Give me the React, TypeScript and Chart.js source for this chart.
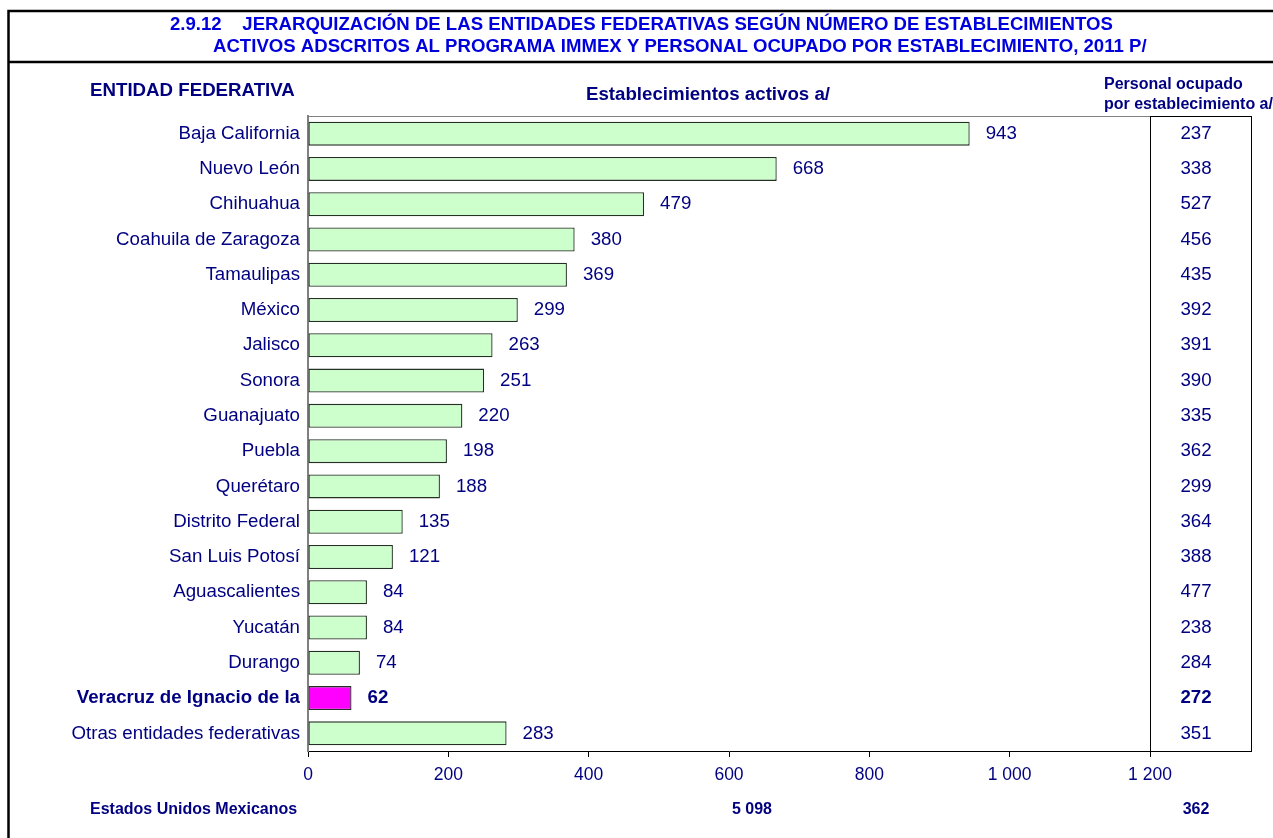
import React, { useEffect, useRef } from "react";
import { Chart, registerables } from "chart.js";

Chart.register(...registerables);

const categories = [
  "Baja California",
  "Nuevo León",
  "Chihuahua",
  "Coahuila de Zaragoza",
  "Tamaulipas",
  "México",
  "Jalisco",
  "Sonora",
  "Guanajuato",
  "Puebla",
  "Querétaro",
  "Distrito Federal",
  "San Luis Potosí",
  "Aguascalientes",
  "Yucatán",
  "Durango",
  "Veracruz de Ignacio de la",
  "Otras entidades federativas",
];
const establecimientos = [943, 668, 479, 380, 369, 299, 263, 251, 220, 198, 188, 135, 121, 84, 84, 74, 62, 283];
const personalOcupado = [237, 338, 527, 456, 435, 392, 391, 390, 335, 362, 299, 364, 388, 477, 238, 284, 272, 351];
const highlightIndex = 16;
const titleLines = [
  "2.9.12    JERARQUIZACIÓN DE LAS ENTIDADES FEDERATIVAS SEGÚN NÚMERO DE ESTABLECIMIENTOS",
  "ACTIVOS ADSCRITOS AL PROGRAMA IMMEX Y PERSONAL OCUPADO POR ESTABLECIMIENTO, 2011 P/",
];
const headerEntidad = "ENTIDAD FEDERATIVA";
const headerEstab = "Establecimientos activos a/";
const headerPersonal = ["Personal ocupado", "por establecimiento a/"];
const totalLabel = "Estados Unidos Mexicanos";
const totalEstab = "5 098";
const totalPersonal = "362";

const FONT = 'Arial, "Liberation Sans", sans-serif';
const NAVY = "#000080";
const TITLE_BLUE = "#0000DD";
const LABEL_SIZE = 18.7;

const fmt = (v: number) => {
  const s = Math.round(v).toString();
  return s.replace(/\B(?=(\d{3})+(?!\d))/g, " ");
};

const overlayPlugin = {
  id: "overlay",
  afterDraw(chart: any) {
    const ctx = chart.ctx as CanvasRenderingContext2D;
    const area = chart.chartArea;
    const meta = chart.getDatasetMeta(0);
    ctx.save();

    // outer frame
    ctx.strokeStyle = "#000";
    ctx.lineWidth = 2.5;
    ctx.beginPath();
    ctx.moveTo(8.5, 900);
    ctx.lineTo(8.5, 11);
    ctx.lineTo(1300, 11);
    ctx.moveTo(8.5, 62);
    ctx.lineTo(1300, 62);
    ctx.stroke();

    // title
    ctx.fillStyle = TITLE_BLUE;
    ctx.font = `bold 18.6px ${FONT}`;
    ctx.textBaseline = "middle";
    ctx.textAlign = "left";
    ctx.fillText(titleLines[0], 170, 25);
    ctx.fillText(titleLines[1], 213, 47);

    // headers
    ctx.fillStyle = NAVY;
    ctx.font = `bold 18.7px ${FONT}`;
    ctx.fillText(headerEntidad, 90, 91);
    ctx.textAlign = "center";
    ctx.fillText(headerEstab, 708, 95);
    ctx.textAlign = "left";
    ctx.font = `bold 16px ${FONT}`;
    ctx.fillText(headerPersonal[0], 1104, 85);
    ctx.fillText(headerPersonal[1], 1104, 105);

    // plot top border
    ctx.strokeStyle = "#808080";
    ctx.lineWidth = 1;
    ctx.beginPath();
    ctx.moveTo(area.left, area.top + 0.5);
    ctx.lineTo(area.right, area.top + 0.5);
    ctx.stroke();

    // right box
    ctx.strokeStyle = "#000";
    ctx.lineWidth = 1;
    ctx.strokeRect(area.right + 0.5, area.top + 0.5, 101, area.bottom - area.top);

    // value labels and personal ocupado
    ctx.textBaseline = "middle";
    meta.data.forEach((bar: any, i: number) => {
      const bold = i === highlightIndex;
      ctx.font = `${bold ? "bold " : ""}${LABEL_SIZE}px ${FONT}`;
      ctx.fillStyle = NAVY;
      ctx.textAlign = "left";
      ctx.fillText(fmt(establecimientos[i]), bar.x + 16, bar.y);
      ctx.textAlign = "center";
      ctx.fillText(fmt(personalOcupado[i]), area.right + 46, bar.y);
    });

    // totals
    ctx.font = `bold 16px ${FONT}`;
    ctx.fillStyle = NAVY;
    ctx.textAlign = "left";
    ctx.fillText(totalLabel, 90, 810);
    ctx.textAlign = "center";
    ctx.fillText(totalEstab, 752, 810);
    ctx.fillText(totalPersonal, area.right + 46, 810);

    ctx.restore();
  },
};

export default function App() {
  const canvasRef = useRef<HTMLCanvasElement | null>(null);

  useEffect(() => {
    const canvas = canvasRef.current;
    if (!canvas) return;
    const chart = new Chart(canvas, {
      type: "bar",
      data: {
        labels: categories,
        datasets: [
          {
            data: establecimientos,
            backgroundColor: establecimientos.map((_, i) => (i === highlightIndex ? "#FF00FF" : "#CCFFCC")),
            borderColor: "#243024",
            borderWidth: 1.3,
            borderSkipped: false,
            barPercentage: 0.68,
            categoryPercentage: 1,
          },
        ],
      },
      options: {
        indexAxis: "y",
        responsive: false,
        animation: false,
        maintainAspectRatio: false,
        layout: { padding: { left: 0, top: 116, right: 123, bottom: 0 } },
        plugins: {
          legend: { display: false },
          tooltip: { enabled: false },
          title: { display: false },
        },
        scales: {
          x: {
            min: 0,
            max: 1200,
            afterFit: (s: any) => {
              s.height = 838 - 751;
            },
            ticks: {
              stepSize: 200,
              color: NAVY,
              font: { family: FONT, size: 17.5 },
              padding: 8,
              callback: (v: any) => fmt(Number(v)),
              maxRotation: 0,
            },
            grid: { drawOnChartArea: false, drawTicks: true, tickLength: 6, color: "#000" },
            border: { display: true, color: "#000", width: 1 },
          },
          y: {
            afterFit: (s: any) => {
              s.width = 308;
            },
            ticks: {
              color: NAVY,
              font: (c: any) => ({
                family: FONT,
                size: LABEL_SIZE,
                weight: c.index === highlightIndex ? "bold" : "normal",
              }),
              padding: 8,
              autoSkip: false,
            },
            grid: { display: false, drawTicks: false },
            border: { display: true, color: "#808080", width: 2 },
          },
        },
      },
      plugins: [overlayPlugin],
    });
    return () => chart.destroy();
  }, []);

  return (
    <div style={{ position: "absolute", left: 0, top: 0, width: 1273, height: 838, background: "#fff" }}>
      <canvas ref={canvasRef} width={1273} height={838} style={{ width: 1273, height: 838, display: "block" }} />
    </div>
  );
}
